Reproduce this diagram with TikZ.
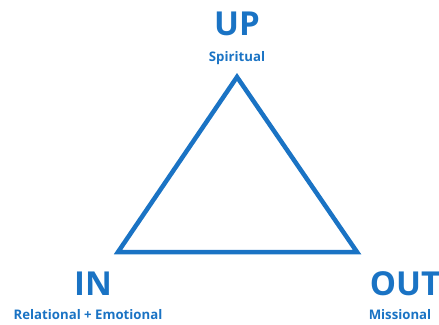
\documentclass[tikz,border=0pt]{standalone}
\usepackage{fontspec}
\setmainfont{Open Sans}
\definecolor{tblue}{HTML}{1A73C4}
\begin{document}
\begin{tikzpicture}[x=1pt,y=-1pt,
  big/.style={text=tblue,font=\fontsize{33}{33}\selectfont\bfseries,inner sep=0pt,anchor=base},
  small/.style={text=tblue,font=\fontsize{13.2}{13.2}\selectfont\bfseries,inner sep=0pt,anchor=base},
  tri/.style={draw=tblue,line width=4.5pt,line join=miter}]
\useasboundingbox (0,0) rectangle (439,324);
\coordinate (top) at (237,77);
\coordinate (left) at (118,252);
\coordinate (right) at (357,252);
\draw[tri] (top) -- (left) -- (right) -- cycle;
\node[big] (up) at (237,35) {UP};
\node[small] (sp) at (237,61) {Spiritual};
\node[big] (in) at (93,295) {IN};
\node[small] (rel) at (88,319) {Relational + Emotional};
\node[big] (out) at (405,295) {OUT};
\node[small] (mis) at (400,319) {Missional};
\end{tikzpicture}
\end{document}
